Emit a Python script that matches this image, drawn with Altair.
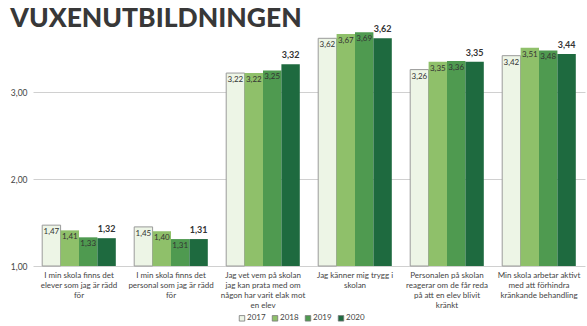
import altair as alt
import pandas as pd

categories = [
    "I min skola finns det|elever som jag är rädd|för",
    "I min skola finns det|personal som jag är rädd|för",
    "Jag vet vem på skolan|jag kan prata med om|någon har varit elak mot|en elev",
    "Jag känner mig trygg i|skolan",
    "Personalen på skolan|reagerar om de får reda|på att en elev blivit|kränkt",
    "Min skola arbetar aktivt|med att förhindra|kränkande behandling",
]
years = ["2017", "2018", "2019", "2020"]
v2017 = [1.47, 1.45, 3.22, 3.62, 3.26, 3.42]
v2018 = [1.41, 1.40, 3.22, 3.67, 3.35, 3.51]
v2019 = [1.33, 1.31, 3.25, 3.69, 3.36, 3.48]
v2020 = [1.32, 1.31, 3.32, 3.62, 3.35, 3.44]
colors = ["#edf5e6", "#8fc06a", "#4f9a50", "#1e6a3f"]

rows = []
for yr, vals in zip(years, [v2017, v2018, v2019, v2020]):
    for c, v in zip(categories, vals):
        rows.append({"cat": c, "year": yr, "value": v,
                     "label": f"{v:.2f}".replace(".", ",")})
df = pd.DataFrame(rows)

FONT = "Lato"

x = alt.X("cat:N", sort=categories,
          scale=alt.Scale(paddingInner=0.2, paddingOuter=0.1),
          axis=alt.Axis(title=None, labelAngle=0, ticks=False, domain=False, grid=False,
                        labelExpr="split(datum.label, '|')",
                        labelFontSize=8, labelColor="#444", labelFont=FONT,
                        labelLineHeight=10, labelPadding=5, labelLimit=200))
xo = alt.XOffset("year:N", sort=years, scale=alt.Scale(paddingInner=0, paddingOuter=0))
y = alt.Y("value:Q",
          scale=alt.Scale(domain=[1, 3.75], zero=False, clamp=True),
          axis=alt.Axis(title=None, values=[1, 2, 3], ticks=False, domain=False,
                        labelExpr="replace(format(datum.value, '.2f'), '.', ',')",
                        labelFontSize=8.5, labelColor="#444", labelFont=FONT,
                        labelPadding=6, gridColor="#c4c4c4", gridWidth=0.8))

base = alt.Chart(df)

bars = base.mark_bar(strokeWidth=1).encode(
    x=x, xOffset=xo, y=y, y2=alt.datum(1),
    color=alt.Color("year:N", sort=years,
                    scale=alt.Scale(domain=years, range=colors),
                    legend=alt.Legend(title=None, orient="none", direction="horizontal",
                                      legendX=205, legendY=287, symbolType="square",
                                      symbolSize=30, symbolStrokeColor="#777",
                                      symbolStrokeWidth=0.8, labelFontSize=8,
                                      labelFont=FONT, labelColor="#444",
                                      columnPadding=4, labelOffset=1)),
    stroke=alt.condition(alt.datum.year == "2017", alt.value("#9a9a9a"), alt.value("transparent")),
)

inner = base.transform_filter(alt.datum.year != "2020").mark_text(
    baseline="top", dy=3, fontSize=8, font=FONT, color="#333"
).encode(x=x, xOffset=xo, y=y, text="label:N")

outer = base.transform_filter(alt.datum.year == "2020").mark_text(
    baseline="bottom", dy=-4, fontSize=9, font=FONT, fontWeight="bold", color="#333"
).encode(x=x, xOffset=xo, y=y, text="label:N")

chart = alt.layer(bars, inner, outer).properties(
    width=552, height=239,
    title=alt.TitleParams("VUXENUTBILDNINGEN", anchor="start", fontSize=26.5,
                          font=FONT, fontWeight=900, color="#383838",
                          offset=-7),
    autosize=alt.AutoSizeParams(type="none"),
    padding={"left": 33, "top": 27, "right": 2, "bottom": 60},
    background="white",
).configure_view(stroke=None)

chart.save("out.html", embed_options={"renderer": "svg", "actions": False})
